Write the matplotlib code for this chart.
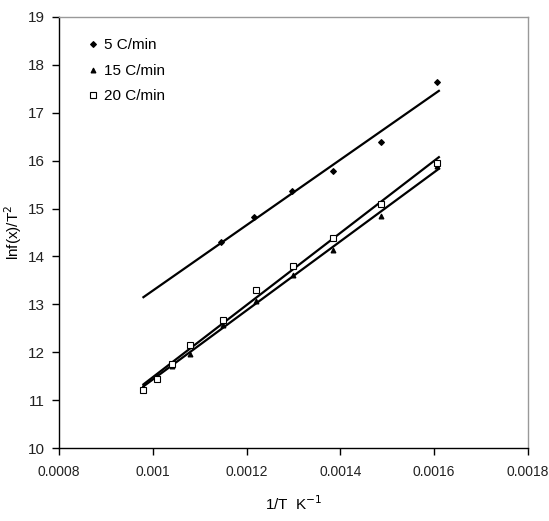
import numpy as np
import matplotlib
matplotlib.use("Agg")
from matplotlib import pyplot as plt

plt.rcParams["font.family"] = ["Liberation Sans", "DejaVu Sans"]

# inverse temperature (1/K) and ln f(x)/T^2 for each heating rate
x_5 = [0.001145, 0.001216, 0.001297, 0.001384, 0.001487, 0.001605]
y_5 = [14.31, 14.83, 15.37, 15.78, 16.38, 17.64]

x_15 = [0.00098, 0.00101, 0.00104, 0.00108, 0.00115, 0.00122, 0.0013, 0.001384, 0.001487, 0.001605]
y_15 = [11.28, 11.50, 11.72, 11.97, 12.56, 13.08, 13.62, 14.13, 14.84, 15.88]

x_20 = [0.00098, 0.00101, 0.00104, 0.00108, 0.00115, 0.00122, 0.0013, 0.001384, 0.001487, 0.001605]
y_20 = [11.22, 11.45, 11.75, 12.15, 12.68, 13.30, 13.80, 14.38, 15.10, 15.95]

fit_range = [0.00098, 0.00161]

fig = plt.figure(figsize=(5.49, 5.21), dpi=100)
ax = fig.add_axes([0.1075, 0.1401, 0.8542, 0.8273])

series = [
    (x_5, y_5, "D", "black", "5 C/min", 3.0),
    (x_15, y_15, "^", "black", "15 C/min", 3.5),
    (x_20, y_20, "s", "white", "20 C/min", 4.0),
]

handles = []
for xs, ys, mk, fc, lab, ms in series:
    h, = ax.plot(xs, ys, linestyle="none", marker=mk, markersize=ms,
                 markerfacecolor=fc, markeredgecolor="black",
                 markeredgewidth=0.8, label=lab, zorder=3)
    handles.append(h)
    # linear trend line
    k, b = np.polyfit(xs, ys, 1)
    xf = np.array(fit_range)
    ax.plot(xf, k * xf + b, color="black", lw=1.6, zorder=2)

ax.set_xlim(0.0008, 0.0018)
ax.set_ylim(10, 19)
ax.set_xticks([0.0008, 0.001, 0.0012, 0.0014, 0.0016, 0.0018])
ax.set_xticklabels(["0.0008", "0.001", "0.0012", "0.0014", "0.0016", "0.0018"])
ax.set_yticks(range(10, 20))
ax.tick_params(direction="out", length=5, width=1, pad=5,
               colors="black", labelcolor="#222222")
ax.tick_params(axis="x", labelsize=10, pad=7)
ax.tick_params(axis="y", labelsize=11)

for side in ["left", "bottom"]:
    ax.spines[side].set_color("black")
    ax.spines[side].set_linewidth(1.0)
for side in ["top", "right"]:
    ax.spines[side].set_color("#999999")
    ax.spines[side].set_linewidth(1.0)

ax.set_xlabel("1/T  K$^{-1}$", fontsize=11, labelpad=11)
ax.set_ylabel("lnf(x)/T$^{2}$", fontsize=11, labelpad=3)

ax.legend(handles=handles, loc="upper left", bbox_to_anchor=(0.04, 0.975),
          frameon=False, fontsize=11, handlelength=0.6, handletextpad=0.4,
          labelspacing=0.75, borderaxespad=0.3)

fig.savefig("out.png", dpi=100)
